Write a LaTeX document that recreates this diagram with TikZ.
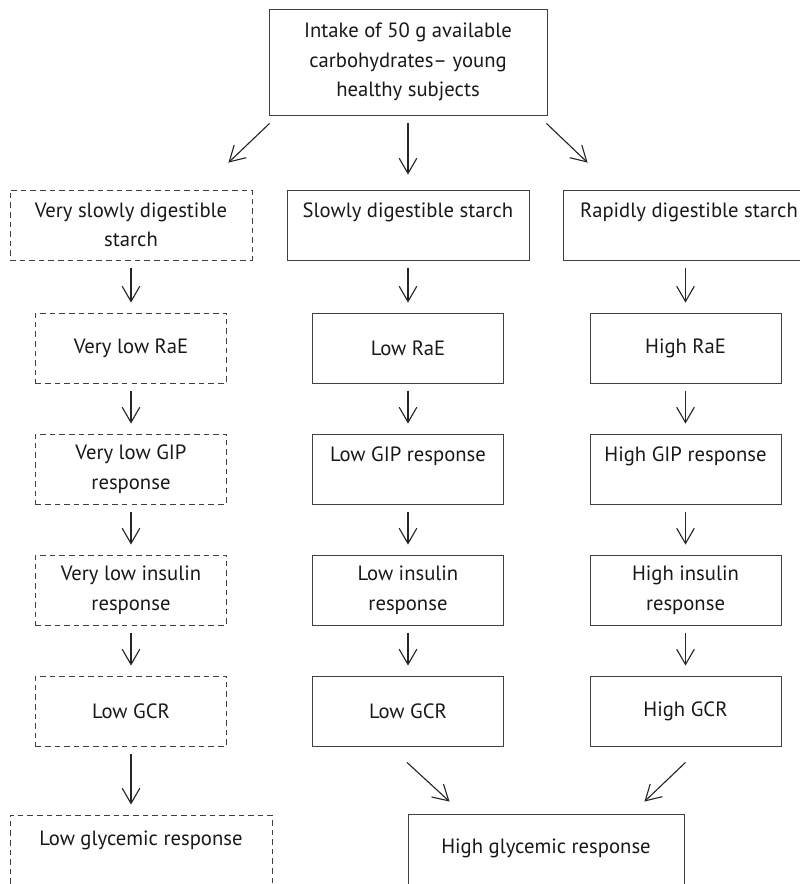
\documentclass[tikz,border=0pt]{standalone}
\usepackage{fontspec}
\setmainfont{PT Sans}
\usetikzlibrary{arrows.meta}

\begin{document}
\begin{tikzpicture}[x=0.025cm,y=-0.025cm]
\tikzstyle{box} = [draw=black!75,line width=0.6pt,inner sep=0pt,align=center,text=black!90,font=\fontsize{14.7}{21}\selectfont,minimum width=4.775cm,minimum height=1.75cm]
\tikzstyle{dbox} = [box,dash pattern=on 1.4mm off 1mm]
\tikzstyle{widebox} = [minimum width=6.05cm]
\tikzstyle{arr} = [draw=black!85,line width=0.8pt,-{Straight Barb[length=0.38cm,width=0.44cm]}]
\tikzstyle{down} = [arr,shorten <=0.18cm,shorten >=0.25cm]
\useasboundingbox (0,0) rectangle (800,884);
\node[box,minimum width=6.95cm,minimum height=2.65cm] (intake) at (408,62) {Intake of 50 g available\\carbohydrates– young\\healthy subjects};
\node[dbox,widebox] (vsds) at (131,225) {Very slowly digestible\\starch};
\node[box,widebox] (sds) at (408,225) {Slowly digestible starch\\\mbox{}};
\node[box,minimum width=6.3cm] (rds) at (689,225) {Rapidly digestible starch\\\mbox{}};
\node[dbox] (vlrae) at (131,348) {Very low RaE};
\node[box] (lrae) at (408,348) {Low RaE};
\node[box] (hrae) at (685.5,348) {High RaE};
\node[dbox] (vlgip) at (131,469) {Very low GIP\\response};
\node[box] (lgip) at (408,469) {Low GIP response\\\mbox{}};
\node[box] (hgip) at (685.5,469) {High GIP response\\\mbox{}};
\node[dbox] (vlins) at (131,590) {Very low insulin\\response};
\node[box] (lins) at (408,590) {Low insulin\\response};
\node[box] (hins) at (685.5,590) {High insulin\\response};
\node[dbox] (vlgcr) at (131,711) {Low GCR};
\node[box] (lgcr) at (408,711) {Low GCR};
\node[box] (hgcr) at (685.5,711) {High GCR};
\node[dbox,minimum width=6.55cm,minimum height=1.875cm] (lgr) at (141,852.5) {Low glycemic response\\\mbox{}};
\node[box,minimum width=6.9cm,minimum height=2.325cm] (hgr) at (546,860.5) {High glycemic response\\\mbox{}};
\draw[arr] ([shift={(1,8)}]intake.south west) -- ([shift={(-24,-27)}]vsds.north east);
\draw[arr,shorten <=0.2cm,shorten >=0.375cm] (intake.south) -- (sds.north);
\draw[arr] ([shift={(-1,8)}]intake.south east) -- ([shift={(25,-27)}]rds.north west);
\draw[down] (vsds.south) -- (vlrae.north);
\draw[down] (vlrae.south) -- (vlgip.north);
\draw[down] (vlgip.south) -- (vlins.north);
\draw[down] (vlins.south) -- (vlgcr.north);
\draw[down] (vlgcr.south) -- (vlgcr.south |- lgr.north);
\draw[down] (sds.south) -- (lrae.north);
\draw[down] (lrae.south) -- (lgip.north);
\draw[down] (lgip.south) -- (lins.north);
\draw[down] (lins.south) -- (lgcr.north);
\draw[down] (rds.south -| hrae.north) -- (hrae.north);
\draw[down] (hrae.south) -- (hgip.north);
\draw[down] (hgip.south) -- (hins.north);
\draw[down] (hins.south) -- (hgcr.north);
\draw[arr] ([shift={(-1,16)}]lgcr.south) -- ([shift={(42,-12)}]hgr.north west);
\draw[arr] ([shift={(0,16)}]hgcr.south) -- ([shift={(-40,-12)}]hgr.north east);
\end{tikzpicture}
\end{document}
